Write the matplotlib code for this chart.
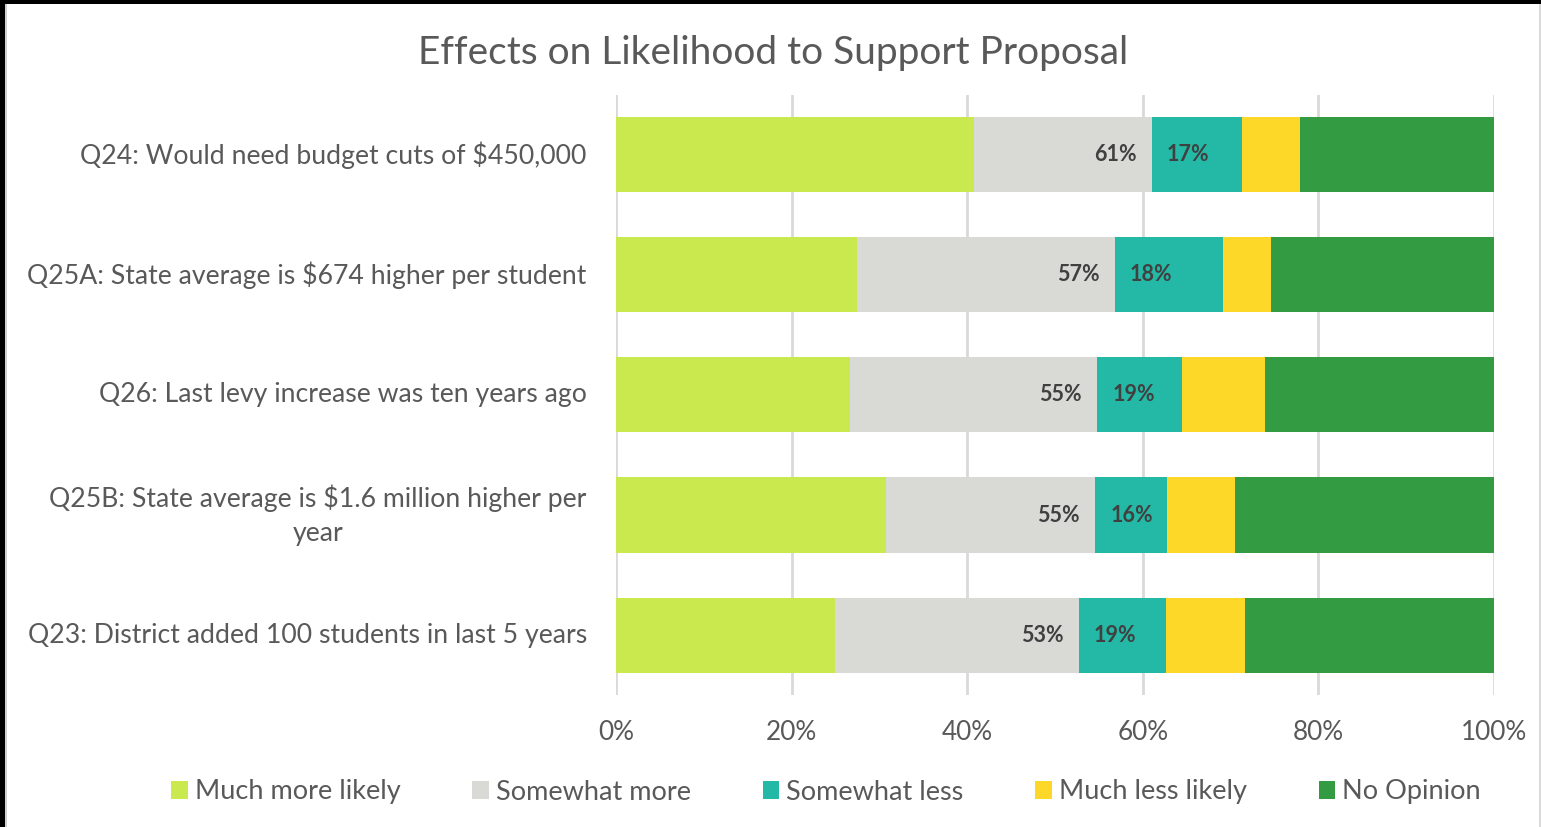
import matplotlib
matplotlib.use("Agg")
import matplotlib.pyplot as plt
from matplotlib.patches import Rectangle, Patch
import numpy as np

plt.rcParams['font.family'] = ['Lato', 'DejaVu Sans']

categories = [
    "Q24: Would need budget cuts of $450,000",
    "Q25A: State average is $674 higher per student",
    "Q26: Last levy increase was ten years ago",
    "Q25B: State average is $1.6 million higher per\nyear",
    "Q23: District added 100 students in last 5 years",
]
series_names = ["Much more likely", "Somewhat more", "Somewhat less", "Much less likely", "No Opinion"]
much_more = [40.8, 27.4, 26.7, 30.8, 24.9]
somewhat_more = [20.2, 29.4, 28.1, 23.8, 27.8]
somewhat_less = [10.3, 12.3, 9.7, 8.2, 9.9]
much_less = [6.6, 5.5, 9.4, 7.7, 9.0]
no_opinion = [22.1, 25.4, 26.1, 29.5, 28.4]
total_more_labels = ["61%", "57%", "55%", "55%", "53%"]
total_less_labels = ["17%", "18%", "19%", "16%", "19%"]
x_ticks = [0, 20, 40, 60, 80, 100]
x_tick_labels = ["0%", "20%", "40%", "60%", "80%", "100%"]
title = "Effects on Likelihood to Support Proposal"

colors = ["#C9E94F", "#D9D9D6", "#24B9A6", "#FDD829", "#339B41"]
text_grey = "#595959"

W, H = 1541, 827
fig = plt.figure(figsize=(W / 100, H / 100), dpi=100)
ax = fig.add_axes([616 / W, 1 - 695 / H, (1494 - 616) / W, 600 / H])

series = [much_more, somewhat_more, somewhat_less, much_less, no_opinion]
y = np.arange(len(categories))
left = np.zeros(len(categories))
for vals, col, name in zip(series, colors, series_names):
    ax.barh(y, vals, left=left, height=0.625, color=col, label=name, zorder=3)
    left = left + np.array(vals)

cum_more = np.array(much_more) + np.array(somewhat_more)
for i in range(len(categories)):
    ax.annotate(total_more_labels[i], (cum_more[i], y[i]), xytext=(-11, 0),
                textcoords="offset points", ha="right", va="center",
                fontsize=15.5, fontweight="bold", color="#404040", zorder=4)
    ax.annotate(total_less_labels[i], (cum_more[i], y[i]), xytext=(11, 0),
                textcoords="offset points", ha="left", va="center",
                fontsize=15.5, fontweight="bold", color="#404040", zorder=4)

ax.set_xlim(0, 100)
ax.set_ylim(len(categories) - 0.5, -0.5)
ax.set_yticks(y)
ax.set_yticklabels(categories, fontsize=19.2, color=text_grey,
                   multialignment="center", linespacing=1.45, va="center")
ax.set_xticks(x_ticks)
ax.set_xticklabels(x_tick_labels, fontsize=18.8, color=text_grey)
ax.tick_params(axis="y", length=0, pad=21)
ax.tick_params(axis="x", length=0, pad=18)
for s in ax.spines.values():
    s.set_visible(False)
ax.grid(axis="x", color="#D9D9D9", linewidth=2, zorder=0)
ax.set_axisbelow(True)

fig.text(773.5 / W, 1 - 53 / H, title, ha="center", va="center", fontsize=28, color=text_grey)

handles = [Patch(facecolor=c, edgecolor="none") for c in colors]
fig.legend(handles, series_names, loc="center", bbox_to_anchor=(826 / W, 1 - 792 / H),
           ncol=5, frameon=False, fontsize=19.5, labelcolor=text_grey,
           handlelength=0.6, handleheight=0.6, handletextpad=0.26, columnspacing=2.66)

# border of the screenshot
fig.patches.append(Rectangle((0, 1 - 4 / H), 1, 4 / H, transform=fig.transFigure,
                             facecolor="black", edgecolor="none", zorder=10))
fig.patches.append(Rectangle((0, 0), 5 / W, 1, transform=fig.transFigure,
                             facecolor="black", edgecolor="none", zorder=10))
fig.patches.append(Rectangle((5 / W, 0), 2 / W, 1 - 4 / H, transform=fig.transFigure,
                             facecolor="#D0D0D0", edgecolor="none", zorder=10))
fig.patches.append(Rectangle((1 - 2 / W, 0), 2 / W, 1 - 4 / H, transform=fig.transFigure,
                             facecolor="#D9D9D9", edgecolor="none", zorder=10))

fig.savefig("out.png", dpi=100)
